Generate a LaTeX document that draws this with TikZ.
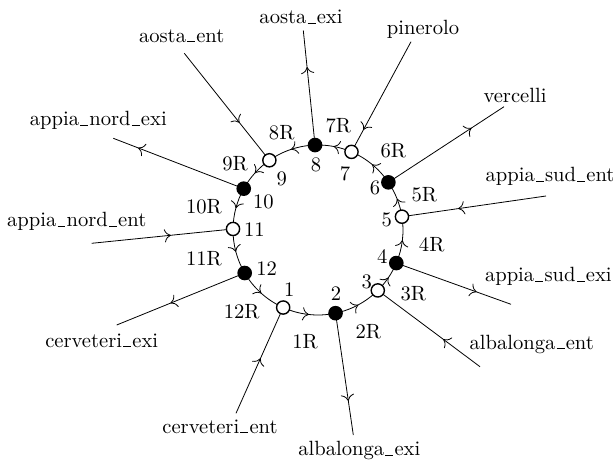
\documentclass[tikz,border=0pt]{standalone}
\usetikzlibrary{arrows.meta,decorations.markings,calc}
\pgfdeclarelayer{bg}
\pgfsetlayers{bg,main}
% low underscore rule, sitting on the baseline
\newcommand\usc{\kern.06em\vbox{\hrule width.38em height .45pt}\kern.06em}
\begin{document}
\begin{tikzpicture}[x=0.5pt,y=-0.5pt,line width=0.7pt,
  >={Computer Modern Rightarrow[length=3.2pt,width=6.6pt]},
  stn/.style={circle,draw,line width=0.7pt,minimum size=6.6pt,inner sep=0pt},
  exitpt/.style={stn,fill=black},
  entrypt/.style={stn,fill=white},
  flow/.style={postaction={decorate},
    decoration={markings,mark=at position #1 with {\arrow{>}}}},
  lbl/.style={inner sep=0pt,font=\fontsize{10.3}{12}\selectfont}]
\useasboundingbox (0,0) rectangle (613,464);

% ring centre
\coordinate (c) at (318,230);

% junctions on the ring (white = entry, black = exit)
\node[entrypt] (s1)  at ([shift={(245.8:42.5pt)}]c) {};
\node[exitpt]  (s2)  at ([shift={(281.9:42.5pt)}]c) {};
\node[entrypt] (s3)  at ([shift={(314.7:42.5pt)}]c) {};
\node[exitpt]  (s4)  at ([shift={(337.1:42.5pt)}]c) {};
\node[entrypt] (s5)  at ([shift={(9.0:42.5pt)}]c) {};
\node[exitpt]  (s6)  at ([shift={(34.1:42.5pt)}]c) {};
\node[entrypt] (s7)  at ([shift={(66.8:42.5pt)}]c) {};
\node[exitpt]  (s8)  at ([shift={(92.0:42.5pt)}]c) {};
\node[entrypt] (s9)  at ([shift={(124.9:42.5pt)}]c) {};
\node[exitpt]  (s10) at ([shift={(150.9:42.5pt)}]c) {};
\node[entrypt] (s11) at ([shift={(179.3:42.5pt)}]c) {};
\node[exitpt]  (s12) at ([shift={(210.4:42.5pt)}]c) {};

% junction numbers
\node[lbl] (k1)  at (289.3,290) {1};
\node[lbl] (k2)  at (336,294) {2};
\node[lbl] (k3)  at (366.7,282.3) {3};
\node[lbl] (k4)  at (382.3,256.7) {4};
\node[lbl] (k5)  at (386.7,220) {5};
\node[lbl] (k6)  at (375,188.3) {6};
\node[lbl] (k7)  at (345,173.3) {7};
\node[lbl] (k8)  at (316,165) {8};
\node[lbl] (k9)  at (281.7,179.3) {9};
\node[lbl] (k10) at (263.3,201.7) {10};
\node[lbl] (k11) at (254.3,229.3) {11};
\node[lbl] (k12) at (266.7,269) {12};

% ring segment names
\node[lbl] (r1)  at (305,341.7) {1R};
\node[lbl] (r2)  at (368.3,331.7) {2R};
\node[lbl] (r3)  at (413.3,293.3) {3R};
\node[lbl] (r4)  at (431.7,245) {4R};
\node[lbl] (r5)  at (424.3,195) {5R};
\node[lbl] (r6)  at (393.3,151) {6R};
\node[lbl] (r7)  at (338.3,126) {7R};
\node[lbl] (r8)  at (281.7,132.7) {8R};
\node[lbl] (r9)  at (235,163.3) {9R};
\node[lbl] (r10) at (204,206.7) {10R};
\node[lbl] (r11) at (204,258.3) {11R};
\node[lbl] (r12) at (241.7,311.7) {12R};

% outer ends of the ramps
\coordinate (e1)  at (236,413.3);
\coordinate (e2)  at (353.3,435);
\coordinate (e3)  at (480,366.7);
\coordinate (e4)  at (511,304.3);
\coordinate (e5)  at (546,196);
\coordinate (e6)  at (504,106.7);
\coordinate (e7)  at (411,41.7);
\coordinate (e8)  at (303.3,30.5);
\coordinate (e9)  at (184.3,53.3);
\coordinate (e10) at (113.3,138.3);
\coordinate (e11) at (91.7,243.3);
\coordinate (e12) at (116.7,325);

% ramp names
\node[lbl] (t1)  at (220,426.7) {cerveteri\usc ent};
\node[lbl] (t2)  at (359.3,450.7) {albalonga\usc exi};
\node[lbl] (t3)  at (531.7,344) {albalonga\usc ent};
\node[lbl] (t4)  at (548.3,276.7) {appia\usc sud\usc exi};
\node[lbl] (t5)  at (550,176.7) {appia\usc sud\usc ent};
\node[lbl] (t6)  at (515,95) {vercelli};
\node[lbl] (t7)  at (423,29) {pinerolo};
\node[lbl] (t8)  at (301,17.3) {aosta\usc exi};
\node[lbl] (t9)  at (181.7,36) {aosta\usc ent};
\node[lbl] (t10) at (98.3,120.7) {appia\usc nord\usc exi};
\node[lbl] (t11) at (76.7,221.7) {appia\usc nord\usc ent};
\node[lbl] (t12) at (101.7,340.7) {cerveteri\usc exi};

\begin{pgfonlayer}{bg}
  % the ring, one arc per segment, driven counter-clockwise
  \draw[flow=0.5] (s1.center)  arc[start angle=245.8,end angle=281.9,radius=42.5pt];
  \draw[flow=0.5] (s2.center)  arc[start angle=281.9,end angle=314.7,radius=42.5pt];
  \draw[flow=0.5] (s3.center)  arc[start angle=314.7,end angle=337.1,radius=42.5pt];
  \draw[flow=0.5] (s4.center)  arc[start angle=337.1,end angle=369.0,radius=42.5pt];
  \draw[flow=0.5] (s5.center)  arc[start angle=9.0,end angle=34.1,radius=42.5pt];
  \draw[flow=0.5] (s6.center)  arc[start angle=34.1,end angle=66.8,radius=42.5pt];
  \draw[flow=0.5] (s7.center)  arc[start angle=66.8,end angle=92.0,radius=42.5pt];
  \draw[flow=0.5] (s8.center)  arc[start angle=92.0,end angle=124.9,radius=42.5pt];
  \draw[flow=0.5] (s9.center)  arc[start angle=124.9,end angle=150.9,radius=42.5pt];
  \draw[flow=0.5] (s10.center) arc[start angle=150.9,end angle=179.3,radius=42.5pt];
  \draw[flow=0.5] (s11.center) arc[start angle=179.3,end angle=210.4,radius=42.5pt];
  \draw[flow=0.5] (s12.center) arc[start angle=210.4,end angle=245.8,radius=42.5pt];

  % entry ramps
  \draw[flow=0.52] (e1) -- (s1.center);
  \draw[flow=0.36] (e3) -- (s3.center);
  \draw[flow=0.61] (e5) -- (s5.center);
  \draw[flow=0.80] (e7) -- (s7.center);
  \draw[flow=0.65] (e9) -- (s9.center);
  \draw[flow=0.56] (e11) -- (s11.center);

  % exit ramps
  \draw[flow=0.72] (s2.center) -- (e2);
  \draw[flow=0.70] (s4.center) -- (e4);
  \draw[flow=0.72] (s6.center) -- (e6);
  \draw[flow=0.68] (s8.center) -- (e8);
  \draw[flow=0.81] (s10.center) -- (e10);
  \draw[flow=0.58] (s12.center) -- (e12);
\end{pgfonlayer}
\end{tikzpicture}
\end{document}
